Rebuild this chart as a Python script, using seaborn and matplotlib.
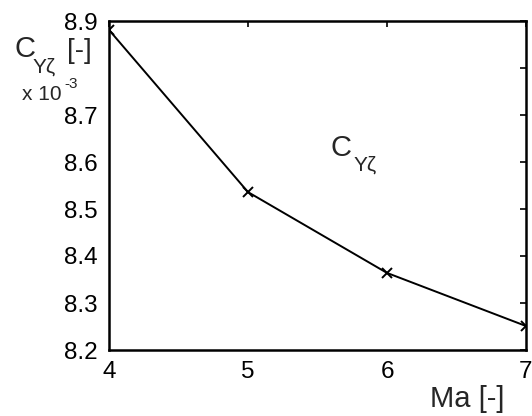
import matplotlib
matplotlib.use("Agg")
import matplotlib.pyplot as plt
import seaborn as sns
import pandas as pd

# Side-force derivative vs Mach number
mach = [4, 5, 6, 7]
c_y_zeta = [8.881, 8.536, 8.364, 8.251]  # x 10^-3
x_ticks = [4, 5, 6, 7]
y_ticks = [8.2, 8.3, 8.4, 8.5, 8.6, 8.7, 8.8, 8.9]
y_tick_labels = ["8.2", "8.3", "8.4", "8.5", "8.6", "8.7", "", "8.9"]

sns.set_theme(style="white")
plt.rcParams["font.family"] = ["Liberation Sans", "DejaVu Sans"]

W, H = 532, 416
fig = plt.figure(figsize=(W / 100, H / 100), dpi=100)
ax = fig.add_axes([109 / W, 1 - 350 / H, (526 - 109) / W, (350 - 21) / H])

df = pd.DataFrame({"Ma": mach, "C": c_y_zeta})
sns.lineplot(data=df, x="Ma", y="C", ax=ax, color="black", linewidth=1.4,
             marker="x", markersize=7, markeredgewidth=1.4, markeredgecolor="black")

ax.set_xlim(4, 7)
ax.set_ylim(8.2, 8.9)
ax.set_xticks(x_ticks)
ax.set_xticklabels([str(t) for t in x_ticks])
ax.set_yticks(y_ticks)
ax.set_yticklabels(y_tick_labels)
ax.set_xlabel("")
ax.set_ylabel("")
ax.tick_params(direction="in", length=4, width=1.2, colors="black",
               labelsize=17.5, top=True, right=True)
ax.tick_params(axis="y", pad=8)
ax.tick_params(axis="x", pad=8)
for s in ax.spines.values():
    s.set_visible(True)
    s.set_color("black")
    s.set_linewidth(1.8)


def px(x, y):
    return x / W, 1 - y / H


# y-axis label block
fig.text(*px(14, 57), "C", fontsize=21, ha="left", va="baseline")
fig.text(*px(33, 73), "Y\u03b6", fontsize=15, ha="left", va="baseline")
fig.text(*px(67, 58), "[-]", fontsize=20, ha="left", va="baseline")
fig.text(*px(22, 100), "x 10", fontsize=15, ha="left", va="baseline")
fig.text(*px(64, 88), "-3", fontsize=11, ha="left", va="baseline")

# x-axis label
fig.text(*px(505, 407), "Ma [-]", fontsize=21, ha="right", va="baseline")

# curve annotation
fig.text(*px(331, 156), "C", fontsize=21, ha="left", va="baseline")
fig.text(*px(354, 171), "Y\u03b6", fontsize=15, ha="left", va="baseline")

fig.savefig("out.png", dpi=100)
